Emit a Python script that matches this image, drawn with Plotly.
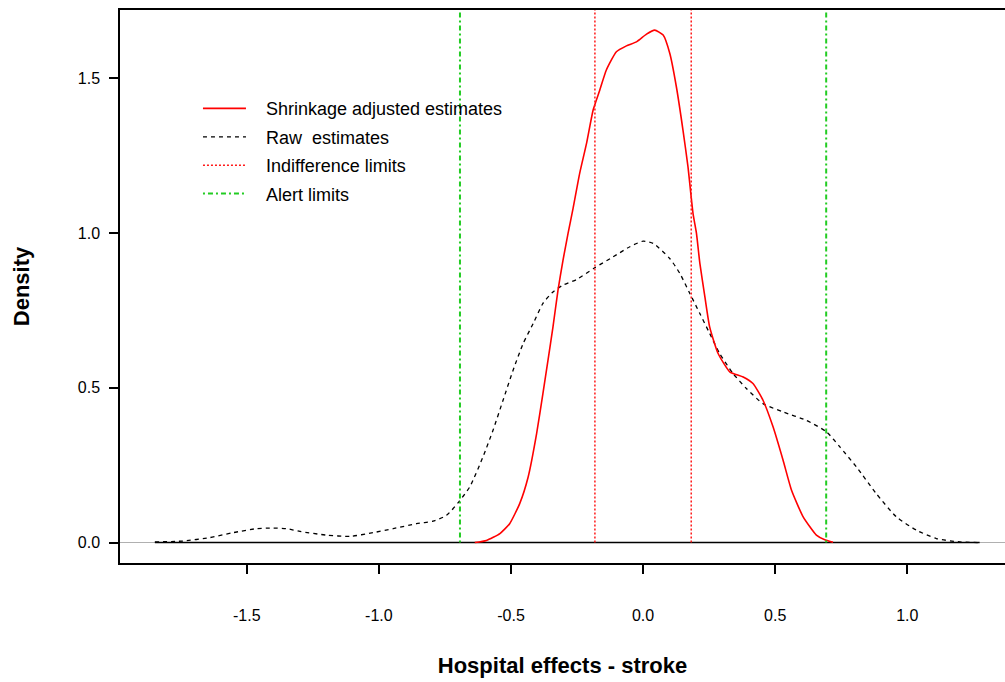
import plotly.graph_objects as go

# Shrinkage adjusted estimates (red solid density)
shrink_x = [-0.637, -0.593, -0.542, -0.505, -0.467, -0.435, -0.403, -0.379, -0.360, -0.341,
            -0.322, -0.303, -0.284, -0.265, -0.240, -0.214, -0.189, -0.164, -0.139, -0.101,
            -0.063, -0.025, 0.013, 0.044, 0.076, 0.101, 0.126, 0.151, 0.170, 0.189,
            0.202, 0.215, 0.234, 0.252, 0.284, 0.328, 0.379, 0.416, 0.454, 0.492,
            0.530, 0.562, 0.606, 0.656, 0.690, 0.719]
shrink_y = [0.000, 0.007, 0.029, 0.061, 0.126, 0.212, 0.352, 0.482, 0.589, 0.697,
            0.816, 0.913, 0.999, 1.080, 1.193, 1.290, 1.398, 1.462, 1.527, 1.586,
            1.605, 1.618, 1.643, 1.656, 1.640, 1.581, 1.473, 1.333, 1.214, 1.064,
            1.000, 0.902, 0.794, 0.697, 0.611, 0.552, 0.535, 0.514, 0.460, 0.374,
            0.266, 0.169, 0.083, 0.024, 0.008, 0.001]

# Raw estimates (black dashed density)
raw_x = [-1.848, -1.741, -1.640, -1.552, -1.463, -1.400, -1.350, -1.299, -1.198, -1.110,
         -1.022, -0.946, -0.858, -0.795, -0.744, -0.698, -0.656, -0.606, -0.568, -0.530,
         -0.492, -0.454, -0.416, -0.379, -0.341, -0.303, -0.252, -0.183, -0.114, -0.050,
         0.000, 0.038, 0.101, 0.139, 0.177, 0.215, 0.252, 0.290, 0.341, 0.391,
         0.454, 0.530, 0.618, 0.694, 0.745, 0.808, 0.883, 0.959, 1.035, 1.110,
         1.199, 1.274]
raw_y = [0.002, 0.005, 0.016, 0.032, 0.045, 0.047, 0.045, 0.036, 0.024, 0.020,
         0.032, 0.045, 0.061, 0.069, 0.088, 0.131, 0.180, 0.277, 0.363, 0.460,
         0.557, 0.643, 0.708, 0.773, 0.810, 0.832, 0.850, 0.888, 0.923, 0.956,
         0.974, 0.967, 0.918, 0.870, 0.805, 0.740, 0.676, 0.611, 0.546, 0.498,
         0.449, 0.422, 0.395, 0.358, 0.309, 0.244, 0.158, 0.083, 0.040, 0.013,
         0.002, 0.000]

indifference_limits = [-0.1823, 0.1823]
alert_limits = [-0.6931, 0.6931]
limit_top = 1.8

x_ticks = [-1.5, -1.0, -0.5, 0.0, 0.5, 1.0]
x_ticklabels = ["-1.5", "-1.0", "-0.5", "0.0", "0.5", "1.0"]
y_ticks = [0.0, 0.5, 1.0, 1.5]
y_ticklabels = ["0.0", "0.5", "1.0", "1.5"]

legend_names = ["Shrinkage adjusted estimates", "Raw  estimates",
                "Indifference limits", "Alert limits"]

FONT = "Liberation Sans, Arial, sans-serif"
PAD = "\u00a0\u00a0\u00a0"

def vlines(vals, top):
    xs, ys = [], []
    for v in vals:
        xs += [v, v, None]
        ys += [0, top, None]
    return xs, ys

fig = go.Figure()

# black baseline over the data range
fig.add_trace(go.Scatter(x=[raw_x[0], raw_x[-1]], y=[0, 0], mode="lines",
                         line=dict(color="black", width=1.5), showlegend=False,
                         hoverinfo="skip"))

fig.add_trace(go.Scatter(x=raw_x, y=raw_y, mode="lines", name=PAD + legend_names[1],
                         line=dict(color="black", width=1.3, dash="4px,4px", shape="spline", smoothing=0.6),
                         legendrank=2, legendgroup="g2"))
fig.add_trace(go.Scatter(x=shrink_x, y=shrink_y, mode="lines", name=PAD + legend_names[0],
                         line=dict(color="#ff0000", width=1.6, shape="spline", smoothing=0.5),
                         legendrank=1, legendgroup="g1"))
ix, iy = vlines(indifference_limits, limit_top)
fig.add_trace(go.Scatter(x=ix, y=iy, mode="lines", name=PAD + legend_names[2],
                         line=dict(color="#ff1a1a", width=1.5, dash="2px,2px"),
                         legendrank=3, legendgroup="g3"))
ax, ay = vlines(alert_limits, limit_top)
fig.add_trace(go.Scatter(x=ax, y=ay, mode="lines", name=PAD + legend_names[3],
                         line=dict(color="#22cc22", width=2, dash="2px,3px,5px,3px"),
                         legendrank=4, legendgroup="g4"))

fig.update_layout(
    width=1005, height=682,
    margin=dict(l=120, r=0, t=10, b=119),
    paper_bgcolor="white", plot_bgcolor="white",
    font=dict(family=FONT, color="black", size=16),
    legend=dict(x=0.0881, y=0.855, xanchor="left", yanchor="top",
                bgcolor="rgba(0,0,0,0)", font=dict(size=18),
                tracegroupgap=2, itemwidth=43),
    showlegend=True,
)
fig.update_xaxes(
    range=[-1.98, 1.37], tickvals=x_ticks, ticktext=x_ticklabels,
    showgrid=False, zeroline=False,
    showline=True, linecolor="black", linewidth=1.5, mirror=True,
    ticks="outside", ticklen=9, tickcolor="black", tickwidth=1.5,
    ticklabelstandoff=28,
    tickfont=dict(size=16),
    title=dict(text="<b>Hospital effects - stroke</b>", font=dict(size=22), standoff=35),
)
fig.update_yaxes(
    range=[-0.066, 1.721], tickvals=y_ticks, ticktext=y_ticklabels,
    showgrid=False, zeroline=True, zerolinecolor="#b0b0b0", zerolinewidth=1,
    showline=True, linecolor="black", linewidth=1.5, mirror=False,
    ticks="outside", ticklen=9, tickcolor="black", tickwidth=1.5,
    ticklabelstandoff=6,
    tickfont=dict(size=16),
    title=dict(text="<b>Density</b>", font=dict(size=22), standoff=42),
)

fig.write_html("out.html", config={"displayModeBar": False},
               post_script="document.body.style.margin='0px';")
